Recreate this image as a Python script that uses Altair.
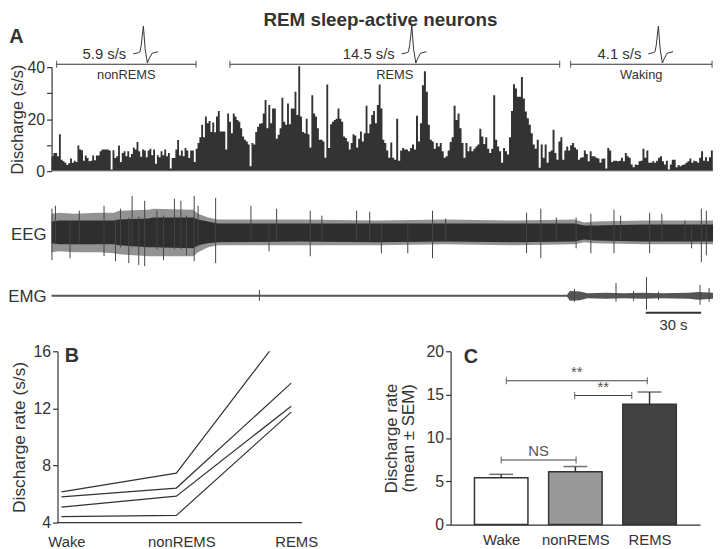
import altair as alt
import pandas as pd

FONT = "Liberation Sans"
INK = "#333333"

# ---------------- Panel A : discharge histogram (s/s) ----------------
DUR = 358.0                       # seconds shown in the record
seg_edges = [0.0, 90.0, 180.1, 270.1, 357.9]   # time span of each group of bins
rate_1 = [5.7, 7.0, 7.0, 5.7, 14.2, 4.4, 3.8, 3.2, 2.3, 3.0,
          4.8, 3.2, 4.0, 3.5, 9.8, 8.3, 8.0, 4.0, 6.0, 5.0,
          3.8, 4.0, 6.0, 4.2, 6.0, 6.0, 7.6, 8.3, 8.3, 8.3,
          8.3, 7.9, 0.6, 8.0, 5.0, 5.7, 9.8, 3.5, 7.0, 7.6,
          5.7, 7.6, 5.3, 6.6, 9.1, 8.3, 11.2, 7.6, 5.5, 8.3,
          7.9, 5.3, 7.9, 8.6, 6.1, 8.3, 2.8, 6.1, 5.3, 7.6,
          6.1, 8.3, 5.7, 7.0, 1.0, 5.0, 5.0, 8.3, 12.0, 6.0,
          7.9, 5.7, 8.9, 7.9, 5.0, 7.9, 7.9, 3.5, 8.6, 10.8,
          13.0, 17.8, 13.0, 21.0, 18.4, 19.3, 15.0, 18.7, 14.9, 21.0]
rate_2 = [23.1, 15.2, 15.2, 15.2, 8.3, 22.2, 19.0, 14.6, 22.2, 21.0,
          19.7, 19.0, 16.5, 13.3, 12.1, 11.4, 10.2, 1.9, 10.8, 10.2,
          15.0, 17.1, 18.2, 18.4, 22.2, 27.3, 16.5, 25.4, 18.4, 24.1,
          24.1, 12.4, 14.0, 16.5, 28.2, 19.0, 17.8, 26.0, 18.0, 24.1,
          24.1, 30.5, 21.6, 40.3, 21.0, 15.0, 14.6, 20.1, 14.2, 9.1,
          29.2, 22.2, 21.0, 16.5, 12.1, 12.1, 11.4, 5.1, 33.3, 8.9,
          18.0, 19.0, 19.7, 20.1, 24.1, 20.1, 19.0, 13.3, 12.7, 11.4,
          8.3, 10.8, 14.2, 13.7, 9.1, 12.4, 15.2, 11.4, 14.6, 25.1,
          14.6, 18.0, 21.6, 23.1, 18.4, 25.4, 33.3, 24.1, 12.1]
rate_3 = [10.8, 7.9, 5.1, 11.0, 5.1, 4.4, 20.1, 4.0, 7.9, 8.9,
          8.3, 8.3, 7.6, 8.9, 10.2, 8.3, 21.3, 11.4, 18.4, 33.0,
          38.4, 30.5, 17.8, 12.1, 11.4, 8.6, 10.8, 9.5, 10.8, 7.6,
          5.1, 5.7, 7.9, 11.2, 13.0, 25.1, 19.7, 22.2, 16.5, 10.8,
          5.1, 10.8, 7.6, 9.5, 7.6, 8.6, 9.5, 10.2, 16.3, 13.3,
          10.4, 13.0, 8.6, 7.0, 8.6, 29.2, 12.1, 9.5, 7.6, 3.2,
          8.9, 7.6, 6.4, 13.0, 23.1, 33.4, 31.8, 28.6, 28.6, 36.2,
          27.9, 22.9, 20.3, 17.8, 14.6, 10.2, 8.6, 12.1, 1.3, 10.2,
          5.1, 10.2, 3.2, 7.4]
rate_4 = [7.9, 15.9, 7.0, 4.4, 11.4, 13.0, 4.4, 7.9, 9.5, 7.9,
          9.9, 10.8, 9.1, 8.3, 4.4, 5.1, 5.3, 7.9, 6.6, 3.8,
          7.6, 5.7, 5.7, 5.1, 4.8, 3.2, 4.7, 4.8, 1.0, 8.9,
          7.9, 3.5, 4.0, 4.0, 3.8, 4.0, 5.1, 3.8, 7.0, 5.7,
          5.1, 2.5, 1.5, 2.5, 2.3, 3.8, 4.0, 8.6, 5.1, 7.9,
          3.2, 3.2, 3.8, 3.2, 4.0, 5.1, 5.7, 3.8, 2.5, 4.0,
          0.6, 2.5, 4.4, 4.4, 1.5, 2.3, 1.9, 2.3, 2.5, 3.2,
          3.8, 4.8, 3.2, 4.0, 3.8, 3.2, 5.1, 7.6, 4.0, 5.3,
          3.8, 5.3, 7.9]

state_names = ["nonREMS", "REMS", "Waking"]
state_rates = ["5.9 s/s", "14.5 s/s", "4.1 s/s"]
state_start = [2.7, 96.5, 280.9]
state_end = [78.2, 275.0, 357.5]

# unit spike waveform (normalised time / amplitude)
wave_t = [0.0, 0.2, 0.27, 0.32, 0.41, 0.48, 0.57, 0.64, 0.76, 1.0]
wave_v = [0.0, 0.04, 0.07, 0.29, 1.0, 0.18, -0.33, -0.18, 0.02, 0.08]

# ---------------- EEG / EMG envelopes ----------------
eeg_t = [0, 4.3, 12.3, 25.7, 33.8, 36.4, 52.5, 55.2, 76.6, 79.3, 84.7,
         90, 133, 175.8, 213.3, 250.8, 283, 288.3, 293.7, 320.5, 358]
eeg_core_hi = [11, 12, 12, 12, 12, 13, 14, 15, 15, 13, 11, 9, 9, 9, 9, 9, 9, 7, 7, 8, 8]
eeg_core_lo = [-11, -12, -12, -12, -12, -13, -15, -15, -16, -13, -11,
               -10, -9, -10, -9, -10, -9, -7, -8, -9, -9]
eeg_fr_hi = [19, 20, 19, 20, 20, 22, 23, 24, 23, 19, 15, 13, 13, 12, 13, 12, 13, 10, 11, 12, 12]
eeg_fr_lo = [-20, -19, -20, -20, -21, -22, -24, -24, -24, -20, -15,
             -13, -13, -13, -12, -13, -12, -10, -11, -12, -12]
eeg_sp_t = [0.2, 2.1, 10.0, 15.0, 28.4, 34.6, 37.3, 41.8, 43.6, 47.2,
            50.4, 57.0, 60.6, 66.5, 70.0, 73.0, 77.2, 79.3, 88.8, 107.9,
            117.7, 121.8, 140.0, 146.3, 165.1, 172.2, 178.5, 192.8, 206.2, 213.3,
            257.1, 264.8, 273.2, 283.9, 291.9, 304.4, 308.0, 323.7, 330.3, 342.8,
            346.4, 351.7, 354.4]
eeg_sp_hi = [24, 27, 12, 22, 27, 13, 24, 15, 37, 16, 32, 22, 17, 34, 32, 17, 37, 27, 35, 27,
             9, 24, 22, 17, 22, 21, 9, 9, 22, 14, 20, 24, 15, 15, 19, 23, 17, 20, 19, 12,
             8, 24, 22]
eeg_sp_lo = [-28, -12, -26, -12, -24, -29, -15, -31, -15, -33, -34, -17, -28, -17, -17, -23,
             -29, -14, -31, -9, -19, -9, -24, -9, -9, -9, -21, -21, -26, -9, -21, -26, -9,
             -16, -21, -21, -8, -21, -8, -8, -16, -30, -23]
emg_t = [0, 279, 280.5, 286, 290, 300, 310, 320, 330, 345, 350, 358]
emg_hi = [1.0, 1.0, 5, 4.5, 2.5, 3, 2.5, 3, 2.5, 3, 4, 3]
emg_lo = [-1.0, -1.0, -5, -4.5, -2.5, -3, -2.5, -3, -2.5, -3, -4, -3]
emg_sp_t = [112.5, 283.0, 305.5, 315.0, 322.0, 328.5, 351.0, 355.9]
emg_sp_hi = [6, 7, 13, 5, 19, 4, 11, 8]
emg_sp_lo = [-5, -6, -6, -5, -14, -4, -9, -6]
scale_bar_start = 321.6
scale_bar_len = 30

# ---------------- Panel B ----------------
b_states = ["Wake", "nonREMS", "REMS"]
b_neuron_1 = [6.15, 7.46, 18.0]
b_neuron_2 = [5.8, 6.42, 13.77]
b_neuron_3 = [5.09, 5.85, 12.15]
b_neuron_4 = [4.42, 4.5, 11.74]

# ---------------- Panel C ----------------
c_states = ["Wake", "nonREMS", "REMS"]
c_mean = [5.4, 6.1, 13.9]
c_sem = [0.4, 0.6, 1.4]
c_fill = ["#ffffff", "#999999", "#424242"]
br_from = [0.0, 0.99, 0.07]
br_to = [1.01, 1.76, 1.97]
br_y = [7.45, 14.9, 16.6]
br_text = ["NS", "**", "**"]

# ======================================================================
rows = []
for k, seg in enumerate([rate_1, rate_2, rate_3, rate_4]):
    a, b = seg_edges[k], seg_edges[k + 1]
    w = (b - a) / len(seg)
    for i, v in enumerate(seg):
        rows.append({"t0": a + i * w, "rate": v})
rows.append({"t0": seg_edges[-1], "rate": rate_4[-1]})
hist = pd.DataFrame(rows)

states = pd.DataFrame({"name": state_names, "rate": state_rates,
                       "start": state_start, "end": state_end})
states["mid"] = (states["start"] + states["end"]) / 2
BAR_Y = 41.1
TXT_Y = 45.0
WAVE_W = 13.4
WAVE_H = 10.7
wrows = []
for nm, mid in zip(state_names, states["mid"]):
    for tt, vv in zip(wave_t, wave_v):
        wrows.append({"name": nm, "t": mid + 3.75 + tt * WAVE_W, "y": TXT_Y + 0.1 + vv * WAVE_H})
waves = pd.DataFrame(wrows)
one = pd.DataFrame({"k": [0]})

xa_scale = alt.Scale(domain=[0, DUR], nice=False, zero=False)
ya_scale = alt.Scale(domain=[0, 40], nice=False, zero=False)
ya_axis = alt.Axis(values=[0, 10, 20, 30, 40],
                   labelExpr="datum.value % 20 == 0 ? datum.label : ''",
                   title="Discharge (s/s)", titleFontSize=16.5, labelFontSize=16,
                   titlePadding=2, tickSize=5, labelPadding=2)


def XA(f):
    return alt.X(f, scale=xa_scale, axis=None)


def YA(f):
    return alt.Y(f, scale=ya_scale, axis=ya_axis)


def XAd(v):
    return alt.XDatum(v, scale=xa_scale, axis=None)


def YAd(v):
    return alt.YDatum(v, scale=ya_scale, axis=ya_axis)


a_bars = alt.Chart(hist).mark_area(color=INK, interpolate="step-after").encode(
    x=XA("t0:Q"), y=YA("rate:Q"), y2=alt.datum(0))
a_base = alt.Chart(one).mark_rule(color="#aaaaaa", strokeWidth=1).encode(
    x=XAd(0), x2=alt.datum(DUR), y=YAd(0))
a_state = alt.Chart(states).mark_rule(color=INK, strokeWidth=1.2).encode(
    x=XA("start:Q"), x2="end:Q", y=YAd(BAR_Y))
a_tick1 = alt.Chart(states).mark_tick(color=INK, orient="vertical", size=7, thickness=1.2).encode(
    x=XA("start:Q"), y=YAd(BAR_Y))
a_tick2 = alt.Chart(states).mark_tick(color=INK, orient="vertical", size=7, thickness=1.2).encode(
    x=XA("end:Q"), y=YAd(BAR_Y))
a_name = alt.Chart(states).mark_text(font=FONT, fontSize=13, color=INK, baseline="middle").encode(
    x=XA("mid:Q"), y=YAd(37.0), text="name:N")
a_rate = alt.Chart(states).mark_text(font=FONT, fontSize=15, color=INK, baseline="middle",
                                     align="right").encode(
    x=XA("mid:Q"), y=YAd(TXT_Y), text="rate:N")
a_wave = alt.Chart(waves).mark_line(color=INK, strokeWidth=1).encode(
    x=XA("t:Q"), y=YA("y:Q"), detail="name:N")
a_title = alt.Chart(one).mark_text(font=FONT, fontSize=19, fontWeight="bold", color=INK,
                                   baseline="top", align="center").encode(
    x=XAd(178.0), y=YAd(61.7), text=alt.value("REM sleep-active neurons"))
a_letter = alt.Chart(one).mark_text(font=FONT, fontSize=20, fontWeight="bold", color=INK,
                                    baseline="middle", align="center").encode(
    x=XAd(-19.0), y=YAd(51.4), text=alt.value("A"))

panel_a = alt.layer(a_bars, a_base, a_state, a_tick1, a_tick2, a_name, a_rate, a_wave,
                    a_title, a_letter).properties(width=668, height=105)

# ---------------- traces ----------------
EEG_BASE = 116
EMG_BASE = 52
eeg = pd.DataFrame({"t": eeg_t,
                    "chi": [EEG_BASE + v for v in eeg_core_hi],
                    "clo": [EEG_BASE + v for v in eeg_core_lo],
                    "fhi": [EEG_BASE + v for v in eeg_fr_hi],
                    "flo": [EEG_BASE + v for v in eeg_fr_lo]})
eeg_sp = pd.DataFrame({"t": eeg_sp_t,
                       "hi": [EEG_BASE + v for v in eeg_sp_hi],
                       "lo": [EEG_BASE + v for v in eeg_sp_lo]})
emg = pd.DataFrame({"t": emg_t,
                    "hi": [EMG_BASE + v for v in emg_hi],
                    "lo": [EMG_BASE + v for v in emg_lo]})
emg_sp = pd.DataFrame({"t": emg_sp_t,
                       "hi": [EMG_BASE + v for v in emg_sp_hi],
                       "lo": [EMG_BASE + v for v in emg_sp_lo]})
sbar = pd.DataFrame({"t0": [scale_bar_start], "t1": [scale_bar_start + scale_bar_len],
                     "lab": [f"{scale_bar_len} s"]})
sbar["mid"] = (sbar["t0"] + sbar["t1"]) / 2
chan = pd.DataFrame({"lab": ["EEG", "EMG"], "y": [EEG_BASE - 3, EMG_BASE - 1]})

xt_scale = alt.Scale(domain=[0, DUR], nice=False, zero=False)
yt_scale = alt.Scale(domain=[0, 174], nice=False, zero=False)


def XT(f):
    return alt.X(f, scale=xt_scale, axis=None)


def YT(f):
    return alt.Y(f, scale=yt_scale, axis=None)


def XTd(v):
    return alt.XDatum(v, scale=xt_scale, axis=None)


def YTd(v):
    return alt.YDatum(v, scale=yt_scale, axis=None)


t_fringe = alt.Chart(eeg).mark_area(color="#939393").encode(x=XT("t:Q"), y=YT("fhi:Q"), y2="flo:Q")
t_core = alt.Chart(eeg).mark_area(color="#2e2e2e").encode(x=XT("t:Q"), y=YT("chi:Q"), y2="clo:Q")
t_sp = alt.Chart(eeg_sp).mark_rule(color="#444444", strokeWidth=1).encode(
    x=XT("t:Q"), y=YT("hi:Q"), y2="lo:Q")
t_emg = alt.Chart(emg).mark_area(color="#555555").encode(x=XT("t:Q"), y=YT("hi:Q"), y2="lo:Q")
t_emg_sp = alt.Chart(emg_sp).mark_rule(color="#444444", strokeWidth=1).encode(
    x=XT("t:Q"), y=YT("hi:Q"), y2="lo:Q")
t_bar = alt.Chart(sbar).mark_rule(color=INK, strokeWidth=2).encode(
    x=XT("t0:Q"), x2="t1:Q", y=YTd(35))
t_bar_txt = alt.Chart(sbar).mark_text(font=FONT, fontSize=15, color=INK, baseline="middle").encode(
    x=XT("mid:Q"), y=YTd(22), text="lab:N")
t_chan = alt.Chart(chan).mark_text(font=FONT, fontSize=17, color=INK, baseline="middle",
                                   align="right").encode(
    x=XTd(-2.7), y=YT("y:Q"), text="lab:N")

panel_t = alt.layer(t_fringe, t_core, t_sp, t_emg, t_emg_sp, t_bar, t_bar_txt, t_chan).properties(
    width=668, height=174)

# ---------------- Panel B ----------------
brows = []
for nid, vals in enumerate([b_neuron_1, b_neuron_2, b_neuron_3, b_neuron_4]):
    for p, v in enumerate(vals):
        brows.append({"neuron": nid, "pos": p, "rate": v})
bdf = pd.DataFrame(brows)

xb_scale = alt.Scale(domain=[-0.0862, 2.0948], nice=False, zero=False)
yb_scale = alt.Scale(domain=[4, 16], nice=False, zero=False)
xb_axis = alt.Axis(values=[0, 1, 2], labelExpr="['Wake','nonREMS','REMS'][datum.value]",
                   title="", ticks=False, domain=False, labelFontSize=15, labelPadding=12,
                   labelFlush=False, labelOffset=5)
yb_axis = alt.Axis(values=[4, 8, 12, 16], title="Discharge rate (s/s)", offset=-6,
                   titleFontSize=17.5, titlePadding=5, labelFontSize=16, tickSize=5,
                   labelPadding=2)


def XB(f):
    return alt.X(f, scale=xb_scale, axis=xb_axis)


def YB(f):
    return alt.Y(f, scale=yb_scale, axis=yb_axis)


def XBd(v):
    return alt.XDatum(v, scale=xb_scale, axis=xb_axis)


def YBd(v):
    return alt.YDatum(v, scale=yb_scale, axis=yb_axis)


b_lines = alt.Chart(bdf).mark_line(clip=True, color=INK, strokeWidth=1.2).encode(
    x=XB("pos:Q"), y=YB("rate:Q"), detail="neuron:N")
b_base = alt.Chart(one).mark_rule(color=INK, strokeWidth=1.2).encode(
    x=XBd(-0.0345), x2=alt.datum(2.0948), y=YBd(4))
b_letter = alt.Chart(one).mark_text(font=FONT, fontSize=20, fontWeight="bold", color=INK,
                                    baseline="middle").encode(
    x=XBd(0.09), y=YBd(15.7), text=alt.value("B"))
panel_b = alt.layer(b_lines, b_base, b_letter).properties(width=253, height=173)

# ---------------- Panel C ----------------
cdf = pd.DataFrame({"state": c_states, "pos": [0, 1, 2], "mean": c_mean, "sem": c_sem})
cdf["top"] = cdf["mean"] + cdf["sem"]
brk = pd.DataFrame({"x1": br_from, "x2": br_to, "y": br_y, "lab": br_text})
brk["mid"] = (brk["x1"] + brk["x2"]) / 2

xc_scale = alt.Scale(domain=[-0.615, 2.615], nice=False, zero=False)
yc_scale = alt.Scale(domain=[0, 20], nice=False, zero=False)
xc_axis = alt.Axis(values=[0, 1, 2], labelExpr="['Wake','nonREMS','REMS'][datum.value]",
                   title="", ticks=False, domain=True, labelFontSize=15, labelPadding=8,
                   labelFlush=False)
yc_axis = alt.Axis(values=[0, 5, 10, 15, 20], title=["Discharge rate", "(mean ± SEM)"],
                   titleFontSize=17, titleLineHeight=17, titlePadding=9, labelFontSize=16,
                   tickSize=5, labelPadding=2)


def XC(f):
    return alt.X(f, scale=xc_scale, axis=xc_axis)


def YC(f):
    return alt.Y(f, scale=yc_scale, axis=yc_axis)


def XCd(v):
    return alt.XDatum(v, scale=xc_scale, axis=xc_axis)


def YCd(v):
    return alt.YDatum(v, scale=yc_scale, axis=yc_axis)


c_err = alt.Chart(cdf).mark_rule(color=INK, strokeWidth=1.5).encode(
    x=XC("pos:Q"), y=YC("mean:Q"), y2="top:Q")
c_cap = alt.Chart(cdf).mark_tick(color=INK, orient="horizontal", size=24, thickness=1.5).encode(
    x=XC("pos:Q"), y=YC("top:Q"))
c_bars = alt.Chart(cdf).mark_bar(size=54, stroke=INK, strokeWidth=1.5).encode(
    x=XC("pos:Q"), y=YC("mean:Q"),
    fill=alt.Fill("state:N", scale=alt.Scale(domain=c_states, range=c_fill), legend=None))
c_br = alt.Chart(brk).mark_rule(color="#444444", strokeWidth=1.2).encode(
    x=XC("x1:Q"), x2="x2:Q", y=YC("y:Q"))
c_br1 = alt.Chart(brk).mark_tick(color="#444444", orient="vertical", size=7, thickness=1.2).encode(
    x=XC("x1:Q"), y=YC("y:Q"))
c_br2 = alt.Chart(brk).mark_tick(color="#444444", orient="vertical", size=7, thickness=1.2).encode(
    x=XC("x2:Q"), y=YC("y:Q"))
c_brt = alt.Chart(brk).mark_text(font=FONT, fontSize=15, color="#555555", baseline="bottom",
                                 dy=-1).encode(
    x=XC("mid:Q"), y=YC("y:Q"), text="lab:N")
c_letter = alt.Chart(one).mark_text(font=FONT, fontSize=20, fontWeight="bold", color=INK,
                                    baseline="middle").encode(
    x=XCd(-0.41), y=YCd(19.35), text=alt.value("C"))
panel_c = alt.layer(c_err, c_cap, c_bars, c_br, c_br1, c_br2, c_brt, c_letter).properties(
    width=252, height=175)

bottom = alt.hconcat(panel_b, panel_c, spacing=150, bounds="flush")
chart = alt.vconcat(panel_a, panel_t, bottom, spacing=4, bounds="flush").properties(
    padding=0
).configure_view(strokeWidth=0).configure_axis(
    domainColor=INK, tickColor=INK, labelColor=INK, titleColor=INK,
    labelFont=FONT, titleFont=FONT, titleFontWeight="normal", grid=False,
    domainWidth=1.2, tickWidth=1.2
)

chart.save("out.html", embed_options={"renderer": "svg", "actions": False})
